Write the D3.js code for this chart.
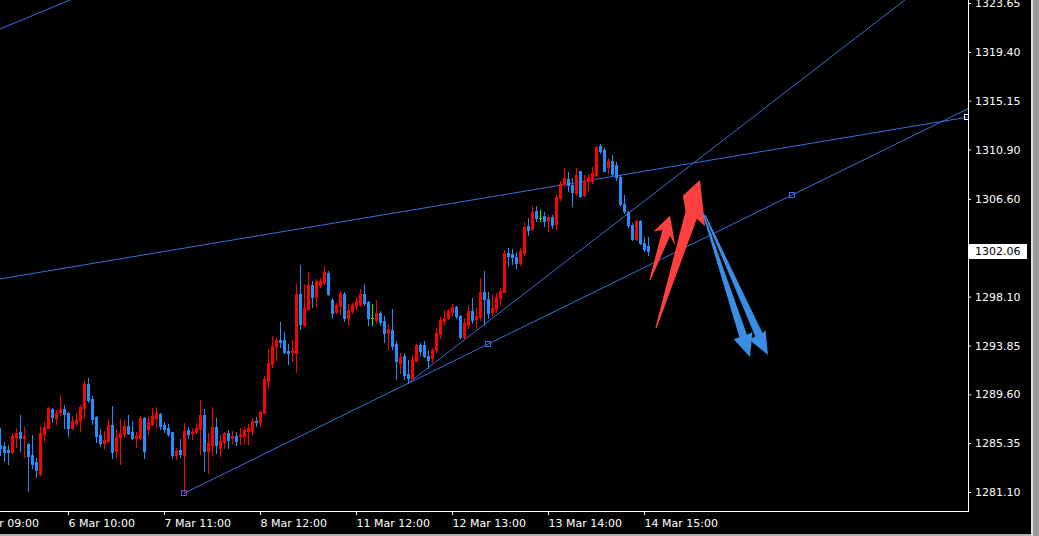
<!DOCTYPE html>
<html><head><meta charset="utf-8">
<script src="https://cdn.jsdelivr.net/npm/d3@7"></script>
<style>html,body{margin:0;padding:0;background:#000;overflow:hidden}svg{display:block}</style>
</head><body>
<svg id="c" width="1039" height="536"></svg>
<script>
// ---- data (hourly bars, index 0 = leftmost visible bar) ----
const open = [
1285.19,1285.13,1284.78,1284.58,1285.89,1286.32,1285.80,1285.25,1284.32,1283.68,
1282.64,1286.17,1286.69,1288.32,1287.51,1288.09,1288.32,1287.97,1286.69,1287.13,
1287.36,1288.43,1290.50,1289.19,1287.63,1286.06,1285.36,1285.54,1286.93,1284.67,
1285.89,1286.12,1286.84,1286.32,1285.82,1285.77,1287.51,1286.55,1286.99,1287.51,
1287.89,1286.93,1286.69,1286.29,1284.32,1284.78,1284.32,1286.49,1286.26,1286.29,
1286.55,1287.80,1284.69,1285.19,1286.78,1284.90,1285.48,1286.21,1285.77,1285.97,
1285.97,1285.97,1286.41,1286.41,1287.28,1287.22,1288.00,1290.79,1292.24,1293.78,
1294.30,1294.30,1293.34,1293.26,1293.20,1298.33,1295.66,1297.02,1299.09,1298.04,
1299.14,1299.28,1300.15,1297.83,1296.76,1297.31,1298.33,1296.24,1296.88,1297.31,
1297.46,1298.33,1297.63,1296.24,1296.09,1296.67,1295.95,1294.94,1295.22,1293.98,
1292.30,1292.93,1291.37,1291.04,1292.53,1293.89,1293.89,1292.96,1292.73,1293.46,
1294.82,1295.98,1296.27,1296.79,1297.17,1296.44,1294.61,1295.63,1296.85,1296.15,
1296.35,1298.48,1297.89,1296.74,1297.02,1298.01,1298.53,1301.87,1301.78,1301.57,
1301.00,1301.87,1304.22,1304.01,1305.53,1304.94,1305.09,1304.66,1305.00,1304.42,
1306.68,1307.90,1308.36,1307.84,1307.12,1309.01,1306.97,1308.14,1308.19,1308.66,
1311.18,1310.89,1309.36,1309.93,1309.58,1308.49,1306.16,1305.47,1304.31,1303.14,
1304.71,1302.77,1302.48];
const high = [
1286.69,1285.48,1285.19,1286.21,1286.64,1287.80,1286.73,1285.36,1286.06,1284.03,
1286.84,1287.22,1288.50,1288.43,1288.26,1289.54,1288.67,1288.09,1287.69,1288.00,
1288.67,1290.76,1291.04,1289.45,1287.71,1286.58,1286.41,1287.48,1288.58,1286.58,
1287.45,1287.36,1287.80,1287.28,1286.35,1287.69,1287.63,1287.65,1288.38,1288.50,
1288.00,1287.22,1286.99,1286.35,1284.90,1285.68,1287.08,1286.78,1286.69,1287.08,
1289.11,1288.29,1286.21,1288.52,1287.56,1286.06,1286.35,1286.49,1286.41,1286.35,
1286.69,1286.78,1286.99,1287.51,1287.65,1288.15,1291.19,1293.57,1294.65,1294.50,
1295.87,1295.02,1293.98,1294.33,1299.20,1300.88,1299.20,1300.24,1299.43,1299.66,
1299.72,1300.74,1300.30,1297.94,1297.54,1298.56,1298.48,1297.46,1297.54,1298.04,
1298.76,1299.20,1297.72,1297.46,1297.83,1296.82,1296.39,1295.72,1297.02,1294.24,
1293.17,1293.17,1292.59,1293.02,1293.95,1294.04,1294.24,1293.46,1293.60,1295.34,
1296.35,1296.93,1297.02,1297.43,1297.28,1296.50,1296.21,1297.37,1297.95,1297.08,
1299.69,1300.33,1298.53,1298.24,1298.39,1298.82,1302.16,1302.36,1302.24,1301.95,
1302.30,1304.62,1304.94,1305.96,1305.96,1305.67,1305.47,1305.18,1305.18,1306.97,
1308.19,1309.29,1308.95,1308.42,1309.29,1309.06,1308.66,1308.77,1309.36,1311.18,
1311.38,1311.03,1310.16,1310.45,1309.82,1308.71,1306.92,1305.58,1304.51,1304.80,
1304.80,1303.26,1303.26];
const low = [
1284.32,1283.80,1283.51,1284.52,1285.04,1284.67,1284.12,1281.19,1283.16,1282.43,
1282.58,1285.56,1286.66,1287.22,1287.04,1287.80,1286.69,1286.00,1286.58,1286.93,
1286.43,1287.54,1288.96,1287.04,1285.48,1285.13,1284.90,1285.48,1284.08,1284.17,
1283.54,1285.91,1286.15,1285.74,1285.04,1285.68,1284.08,1286.12,1286.93,1286.78,
1286.58,1286.35,1285.97,1284.08,1283.97,1284.17,1280.99,1285.77,1285.68,1286.21,
1284.41,1282.95,1282.78,1284.32,1284.47,1284.23,1284.95,1284.90,1285.34,1285.19,
1285.25,1285.34,1285.25,1286.06,1286.87,1286.84,1287.95,1290.15,1291.98,1292.61,
1293.74,1293.20,1292.24,1292.47,1291.54,1295.31,1295.52,1296.96,1297.17,1297.31,
1298.91,1299.20,1298.24,1296.24,1296.67,1296.59,1296.01,1295.66,1296.67,1297.05,
1297.26,1297.40,1295.66,1295.66,1295.81,1295.66,1294.15,1293.57,1293.57,1290.96,
1291.43,1290.91,1290.56,1290.99,1292.50,1293.02,1292.87,1291.86,1292.44,1293.31,
1294.47,1295.63,1296.13,1296.50,1296.21,1294.52,1294.47,1295.34,1295.78,1295.34,
1296.06,1295.63,1296.21,1296.50,1296.79,1297.37,1298.48,1300.79,1300.91,1300.61,
1300.85,1301.72,1303.49,1303.93,1304.66,1304.66,1304.22,1303.79,1304.07,1304.01,
1306.54,1307.75,1307.32,1305.96,1306.97,1306.75,1306.83,1307.41,1307.99,1308.57,
1310.60,1309.01,1308.86,1308.71,1308.28,1305.96,1305.38,1304.13,1303.06,1303.06,
1302.68,1302.05,1301.75];
const close = [
1284.95,1284.61,1284.61,1285.97,1286.21,1285.82,1285.97,1284.26,1283.56,1283.01,
1286.21,1286.76,1288.43,1287.63,1287.97,1288.32,1287.91,1286.69,1287.28,1287.36,
1288.50,1290.50,1289.11,1287.48,1286.00,1285.36,1285.62,1286.93,1284.61,1285.91,
1286.26,1286.84,1286.26,1285.77,1285.97,1287.56,1284.67,1287.22,1287.74,1288.00,
1286.84,1286.55,1286.12,1284.32,1284.67,1284.38,1286.41,1286.12,1286.35,1286.64,
1287.80,1284.67,1285.39,1286.78,1285.19,1285.54,1286.21,1285.62,1285.97,1285.54,
1286.06,1286.49,1286.64,1287.28,1287.22,1288.09,1290.93,1292.33,1293.78,1294.30,
1294.15,1293.28,1293.22,1293.46,1298.33,1295.72,1297.11,1299.09,1298.04,1299.43,
1299.48,1300.24,1298.33,1296.67,1297.40,1298.41,1296.24,1296.96,1297.40,1297.69,
1298.33,1297.54,1296.24,1296.24,1296.67,1295.89,1294.94,1295.31,1293.78,1292.46,
1292.87,1291.28,1290.99,1292.59,1293.89,1293.37,1292.96,1292.59,1293.46,1294.91,
1296.06,1296.21,1296.85,1297.22,1296.44,1294.61,1295.83,1296.85,1296.06,1296.41,
1298.48,1297.89,1296.65,1297.08,1298.09,1298.59,1301.87,1301.64,1301.57,1301.00,
1302.07,1304.19,1303.93,1305.47,1304.94,1304.94,1304.66,1305.00,1304.31,1306.75,
1307.90,1308.42,1307.84,1307.21,1308.71,1306.83,1308.19,1308.49,1308.86,1311.12,
1310.80,1309.06,1309.93,1308.77,1308.49,1306.16,1305.53,1304.31,1303.14,1304.71,
1302.77,1302.27,1302.06];

const priceTicks = [1323.65,1319.40,1315.15,1310.90,1306.60,1302.35,1298.10,1293.85,1289.60,1285.35,1281.10];
const hiddenPriceTick = 1302.35; // covered by the last-price label
const timeTickIdx = [-7,17,41,65,89,113,137,161];
const timeTickLabels = ["5 Mar 09:00","6 Mar 10:00","7 Mar 11:00","8 Mar 12:00","11 Mar 12:00","12 Mar 13:00","13 Mar 14:00","14 Mar 15:00"];
const lastPrice = 1302.06;

// trend lines: [idx, price] anchor pairs
const lineLower = [[46,1280.99],[198,1306.94]];
const lineLowerMarks = [[46,1280.99],[122,1293.96],[198,1306.94]];
const lineUpper = [[0,1299.64],[241.75,1313.71]];
const lineSteep = [[102,1290.56],[155,1304.79]];
const lineChannel = [[0,1321.39],[17.5,1323.91]];

// arrows: tail [idx,price] -> tip [idx,price]
const redArrows = [[[162.5,1299.55],[167.5,1305.14]], [[164,1295.37],[175,1308.25]]];
const blueArrows = [[[175.75,1305.38],[187.5,1292.85]], [[176.25,1305.20],[192,1293.02]]];

// ---- drawing ----
const W = 968, H = 511;
const svg = d3.select("#c");
svg.append("rect").attr("width",1039).attr("height",536).attr("fill","#000");

const x = d3.scaleLinear().domain([0,242]).range([0,W]);
const y = d3.scaleLinear().domain([1281.10,1323.65]).range([492,3]);

svg.append("defs").append("clipPath").attr("id","plot")
  .append("rect").attr("x",0).attr("y",0).attr("width",W).attr("height",H);
const g = svg.append("g").attr("clip-path","url(#plot)");

const LINE = "#4169E1";
function ray(p1,p2,extendLeft){
  const x1=x(p1[0]),y1=y(p1[1]),x2=x(p2[0]),y2=y(p2[1]);
  const s=(y2-y1)/(x2-x1);
  const xa = extendLeft ? 0 : x1;
  const xb = W;
  g.append("line").attr("x1",xa).attr("y1",y1+s*(xa-x1)).attr("x2",xb).attr("y2",y1+s*(xb-x1))
    .attr("stroke",LINE).attr("stroke-width",1);
}
ray(lineUpper[0],lineUpper[1],true);
ray(lineLower[0],lineLower[1],false);
ray(lineSteep[0],lineSteep[1],false);
ray(lineChannel[0],lineChannel[1],true);

// candles
const idx = d3.range(open.length);
const cg = g.append("g");
idx.forEach(i=>{
  const o=open[i],c=close[i];
  const col = c>o ? "#FF0000" : (c<o ? "#1E90FF" : "#00FF00");
  const cx = Math.round(x(i));
  cg.append("line").attr("x1",cx+0.5).attr("x2",cx+0.5)
    .attr("y1",Math.round(y(high[i]))).attr("y2",Math.round(y(low[i]))+1)
    .attr("stroke",col).attr("stroke-width",1);
  const top=Math.round(y(Math.max(o,c))), bot=Math.round(y(Math.min(o,c)));
  cg.append("rect").attr("x",cx-1).attr("y",top).attr("width",3).attr("height",Math.max(1,bot-top+1))
    .attr("fill",col);
});

// anchor squares
lineLowerMarks.forEach(p=>{
  g.append("rect").attr("x",Math.round(x(p[0]))-2.5).attr("y",Math.round(y(p[1]))-2.5)
    .attr("width",5).attr("height",5).attr("fill","none").attr("stroke",LINE);
});
g.append("rect").attr("x",Math.round(x(lineUpper[1][0]))-2.5).attr("y",Math.round(y(lineUpper[1][1]))-2.5)
  .attr("width",5).attr("height",5).attr("fill","none").attr("stroke","#fff");

// arrows: outline given as [back-from-tip, sideways] pairs, tail ends added automatically
function arrow(tail,tip,outline,fill){
  const tx=x(tail[0]),ty=y(tail[1]),px=x(tip[0]),py=y(tip[1]);
  const L=Math.hypot(px-tx,py-ty), ux=(px-tx)/L, uy=(py-ty)/L, nx=-uy, ny=ux;
  const P=(b,s)=>[px-ux*b+nx*s, py-uy*b+ny*s];
  const pts=[P(L,-0.6)].concat(outline.map(d=>P(d[0],d[1]))).concat([P(L,0.6)]);
  g.append("path").attr("d",d3.line()(pts)+"Z").attr("fill",fill);
}
const RED="#FF4040", BLUE="#3A8EE6";
arrow(redArrows[0][0],redArrows[0][1],[[16,-3],[20,-11],[0,0],[27,14],[19,6]],RED);
arrow(redArrows[1][0],redArrows[1][1],[[34,-5],[20,-12],[0,0],[43,18],[38,8]],RED);
arrow(blueArrows[0][0],blueArrows[0][1],[[22,-4],[23,-10],[0,0],[22,10],[22,4]],BLUE);
arrow(blueArrows[1][0],blueArrows[1][1],[[22,-4],[24,-8],[0,0],[22,11],[22,4]],BLUE);

// axes
const FONT = "DejaVu Sans";
const yAxis = d3.axisRight(y).tickValues(priceTicks)
  .tickFormat(d=> d===hiddenPriceTick ? "" : d3.format(".2f")(d))
  .tickSizeInner(3).tickSizeOuter(0).tickPadding(4);
const ya = svg.append("g").attr("transform",`translate(${W},0)`).call(yAxis);
ya.select(".domain").remove();
ya.selectAll("line").attr("stroke","#fff");
ya.selectAll("text").attr("fill","#fff").attr("font-family",FONT).attr("font-size",11);

const xAxis = d3.axisBottom(x).tickValues(timeTickIdx).tickFormat((d,i)=>timeTickLabels[i]).tickSizeInner(4).tickSizeOuter(0).tickPadding(4);
const xa = svg.append("g").attr("transform",`translate(0,${H})`).call(xAxis);
xa.select(".domain").remove();
xa.selectAll("line").attr("stroke","#fff");
xa.selectAll("text").attr("fill","#fff").attr("font-family",FONT).attr("font-size",11).attr("text-anchor","start");

// frame
svg.append("line").attr("x1",W+0.5).attr("x2",W+0.5).attr("y1",0).attr("y2",H+1).attr("stroke","#fff");
svg.append("line").attr("x1",0).attr("x2",W+1).attr("y1",H+0.5).attr("y2",H+0.5).attr("stroke","#fff");

// current price label
const ly = y(lastPrice);
svg.append("rect").attr("x",W+1).attr("y",Math.round(ly)-7).attr("width",58).attr("height",15).attr("fill","#fff");
svg.append("text").attr("x",W+7).attr("y",ly).attr("dy","0.35em").attr("fill","#000")
  .attr("font-family",FONT).attr("font-size",11).text(lastPrice.toFixed(2));

// window edge
svg.append("rect").attr("x",1031).attr("y",0).attr("width",8).attr("height",536).attr("fill","#9a9a9a");
svg.append("rect").attr("x",1031).attr("y",0).attr("width",2).attr("height",536).attr("fill","#e0e0e0");
svg.append("rect").attr("x",0).attr("y",534).attr("width",1031).attr("height",2).attr("fill","#b0b0b0");
</script>
</body></html>
